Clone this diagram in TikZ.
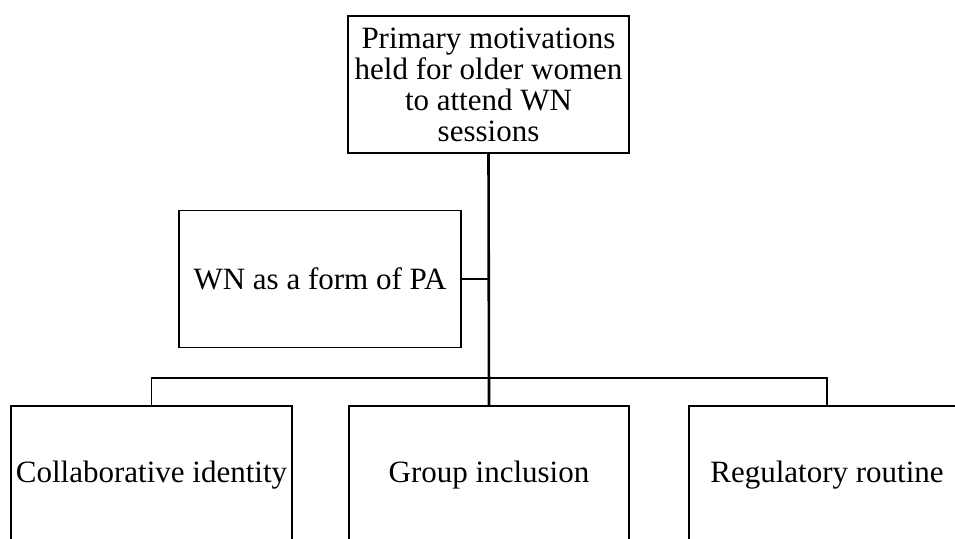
\documentclass[tikz,border=0pt]{standalone}
\usepackage{fontspec}
\setmainfont{Liberation Serif}
\usetikzlibrary{positioning}
\newcommand{\pxunit}{1pt}
\tikzset{
	themebox/.style={draw, line width=1.6pt, align=center, inner sep=0pt,
		font=\fontsize{31}{31}\selectfont},
	stem/.style={line width=2.6pt},
	branch/.style={line width=1.6pt}
}

\begin{document}
\begin{tikzpicture}[x=\pxunit,y=-\pxunit]
	\useasboundingbox (0,0) rectangle (955,538);
	\clip (0,0) rectangle (955,538);

	\node[themebox, minimum width=281, minimum height=137] (top) at (488.5,84.5)
		{Primary motivations\\held for older women\\to attend WN\\sessions};
	\node[themebox, minimum width=282, minimum height=137] (pa) at (320,279)
		{WN as a form of PA};
	\node[themebox, minimum width=281, minimum height=138] (collab) at (151.5,475)
		{Collaborative identity};
	\node[themebox, minimum width=280, minimum height=138] (group) at (489,475)
		{Group inclusion};
	\node[themebox, minimum width=276, minimum height=138] (routine) at (827,475)
		{Regulatory routine};

	\coordinate (bar) at (489,378);

	\draw[stem] (top.south) -- (group.north);
	\draw[branch] (pa.east) -- (pa.east -| top.south);
	\draw[branch] (collab.north) -- (collab.north |- bar) -- (routine.north |- bar) -- (routine.north);
	\end{tikzpicture}
\end{document}
